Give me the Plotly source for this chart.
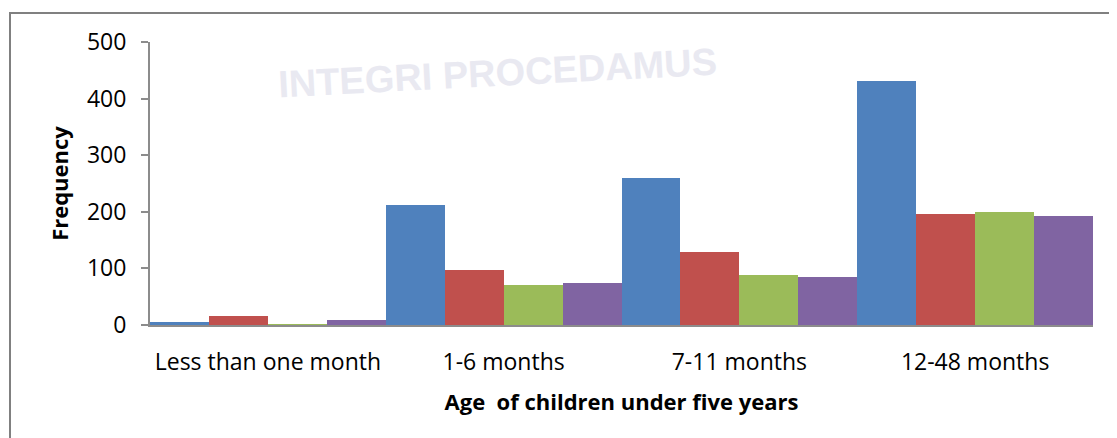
import plotly.graph_objects as go

categories = ["Less than one month", "1-6 months", "7-11 months", "12-48 months"]
series_names = ["Series 1", "Series 2", "Series 3", "Series 4"]
s1 = [6, 212, 260, 431]
s2 = [16, 97, 129, 197]
s3 = [1, 71, 88, 200]
s4 = [9, 74, 85, 193]
colors = ["#4F81BD", "#C0504D", "#9BBB59", "#8064A2"]
y_ticks = [0, 100, 200, 300, 400, 500]

FONT = "Open Sans"

fig = go.Figure()
for name, vals, col in zip(series_names, [s1, s2, s3, s4], colors):
    fig.add_trace(go.Bar(x=categories, y=vals, name=name,
                         marker=dict(color=col, line=dict(width=0))))

fig.update_layout(
    width=1117, height=438,
    margin=dict(l=142, r=32, t=34, b=121),
    paper_bgcolor="white", plot_bgcolor="white",
    barmode="group", bargap=0, bargroupgap=0,
    showlegend=False,
    font=dict(family=FONT, color="black"),
)
fig.update_xaxes(
    showline=True, linecolor="#8c8c8c", linewidth=2,
    ticks="", showgrid=False,
    tickfont=dict(size=23, family=FONT),
    ticklabelstandoff=15,
    title=dict(text="<b>Age  of children under five years</b>",
               font=dict(size=22, family=FONT), standoff=19),
)
fig.update_yaxes(
    range=[0, 500], tickvals=y_ticks,
    showline=True, linecolor="#8c8c8c", linewidth=2,
    ticks="outside", ticklen=7, tickcolor="#8c8c8c", tickwidth=2,
    showgrid=False, zeroline=False,
    tickfont=dict(size=23, family=FONT),
    ticklabelstandoff=10,
    title=dict(text="<b>Frequency</b>", font=dict(size=22, family=FONT), standoff=12),
)

# outer chart frame (cropped)
fig.add_shape(type="rect", xref="paper", yref="paper",
              x0=-140/943, x1=1.2, y0=-0.6, y1=1 + 29/283,
              line=dict(color="#808080", width=2), layer="below")

# faint watermark
fig.add_annotation(text="<b>INTEGRI PROCEDAMUS</b>", xref="paper", yref="paper",
                   x=(497-150)/943, y=1 - (73-42)/283, xanchor="center", yanchor="middle",
                   showarrow=False,
                   font=dict(size=38, family="Liberation Sans", color="#e9e9f1"),
                   textangle=-3)

fig.write_html("out.html")
